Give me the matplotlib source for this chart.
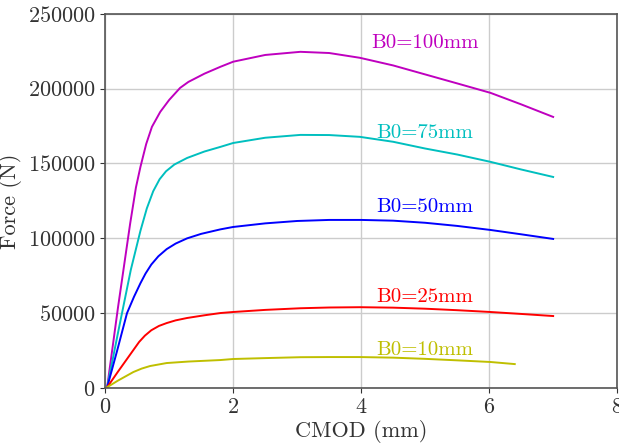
import matplotlib
matplotlib.use("Agg")
import matplotlib.pyplot as plt

plt.rcParams['font.family'] = 'serif'
plt.rcParams['font.serif'] = ['cmr10']
plt.rcParams['mathtext.fontset'] = 'cm'
plt.rcParams['axes.formatter.use_mathtext'] = True

# CMOD (mm) and force (N)
x100 = [0.03, 0.2, 0.39, 0.48, 0.55, 0.64, 0.73, 0.86, 1.0, 1.17, 1.3, 1.55, 1.8, 2.0, 2.5, 3.05, 3.5, 3.98, 4.5, 5.0, 5.5, 6.02, 6.5, 7.0]
f100 = [500, 54000, 110000, 134000, 147700, 163000, 174500, 184500, 192500, 200500, 204500, 210000, 214600, 218000, 222500, 224600, 223800, 220600, 215500, 209500, 203500, 197200, 189500, 181100]

x75 = [0.03, 0.2, 0.4, 0.55, 0.65, 0.75, 0.85, 0.95, 1.08, 1.28, 1.55, 1.8, 2.0, 2.5, 3.05, 3.5, 3.98, 4.5, 5.0, 5.5, 6.02, 6.5, 7.0]
f75 = [500, 37000, 79000, 105000, 120000, 131500, 139500, 144800, 149300, 153700, 158000, 161100, 163700, 167200, 169100, 169000, 167800, 164500, 160000, 156000, 151100, 146000, 141000]

x50 = [0.03, 0.18, 0.34, 0.45, 0.55, 0.63, 0.72, 0.83, 0.96, 1.1, 1.28, 1.5, 1.8, 2.0, 2.5, 3.0, 3.5, 4.0, 4.5, 5.0, 5.5, 6.02, 6.5, 7.0]
f50 = [500, 24000, 50000, 61000, 70000, 76500, 82500, 88000, 92800, 96500, 100000, 103000, 106000, 107600, 110000, 111600, 112300, 112300, 111800, 110400, 108300, 105600, 102700, 99600]

x25 = [0.03, 0.2, 0.44, 0.53, 0.62, 0.72, 0.84, 0.96, 1.1, 1.28, 1.55, 1.8, 2.0, 2.5, 3.05, 3.5, 3.98, 4.5, 5.0, 5.5, 6.02, 6.5, 7.0]
f25 = [500, 11000, 25400, 30800, 35000, 38600, 41500, 43400, 45200, 46800, 48600, 50100, 50800, 52200, 53300, 53800, 54000, 53700, 53000, 52000, 50800, 49500, 48100]

x10 = [0.02, 0.2, 0.44, 0.57, 0.7, 0.96, 1.3, 1.8, 2.0, 2.5, 3.05, 3.5, 3.98, 4.5, 5.0, 5.5, 6.02, 6.4]
f10 = [300, 5000, 10700, 13000, 14700, 16700, 17700, 18700, 19400, 20000, 20600, 20700, 20700, 20300, 19500, 18500, 17400, 16000]

labels = ['B0=100mm', 'B0=75mm', 'B0=50mm', 'B0=25mm', 'B0=10mm']
label_y = [230500, 170400, 121000, 60800, 25400]
colors = ['m', 'c', 'b', 'r', 'y']

fig = plt.figure(figsize=(6.19, 4.45), dpi=100)
ax = fig.add_axes([0.17, 0.128, 0.827, 0.841])

series = [(x100, f100), (x75, f75), (x50, f50), (x25, f25), (x10, f10)]
for (xs, ys), c, lab, ly in zip(series, colors, labels, label_y):
    ax.plot(xs, ys, color=c, lw=1.4)
    ax.text(5.0, ly, lab, color=c, fontsize=15, ha='center', va='center')

ax.set_xlim(0, 8)
ax.set_ylim(0, 250000)
ax.set_xticks([0, 2, 4, 6, 8])
ax.set_yticks([0, 50000, 100000, 150000, 200000, 250000])
ax.grid(True, color='#cccccc', lw=1)
ax.set_axisbelow(True)
ax.tick_params(labelsize=16, colors='#333333', labelcolor='#333333')
for s in ax.spines.values():
    s.set_color('#555555')
    s.set_linewidth(1.2)
ax.set_xlabel('CMOD (mm)', fontsize=16, color='#333333', labelpad=2)
ax.set_ylabel('Force (N)', fontsize=16, color='#333333', labelpad=4)

fig.savefig('out.png', dpi=100)
